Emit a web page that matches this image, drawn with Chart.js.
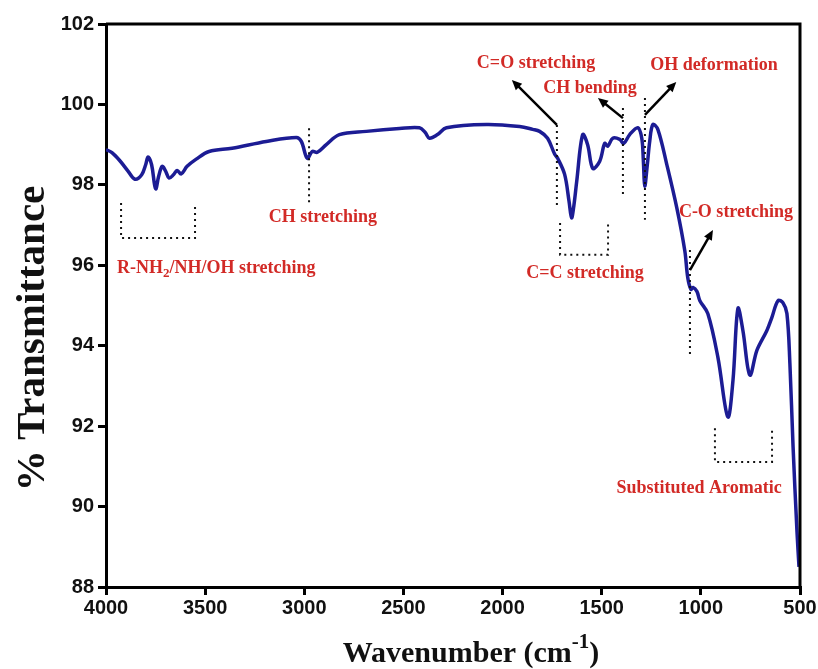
<!DOCTYPE html>
<html>
<head>
<meta charset="utf-8">
<title>FTIR spectrum</title>
<script src="https://cdn.jsdelivr.net/npm/chart.js@4.4.1/dist/chart.umd.min.js"></script>
<style>
  html, body { margin: 0; padding: 0; background: #fff; }
  #wrap { width: 818px; height: 669px; }
</style>
</head>
<body>
<div id="wrap"><canvas id="ftir" width="818" height="669"></canvas></div>
<script>
// ---- spectrum data (cm-1 / %T) ----
const wavenumber = [
  4000, 3970, 3930, 3890, 3854, 3820, 3800, 3788, 3770, 3755, 3748, 3735, 3717, 3700,
  3682, 3660, 3641, 3621, 3591, 3545, 3480, 3364, 3192, 3040, 3015, 2985, 2960, 2934,
  2889, 2823, 2687, 2520, 2419, 2390, 2369, 2328, 2283, 2081, 1914, 1848, 1813, 1773,
  1737, 1722, 1687, 1665, 1652, 1640, 1626, 1596, 1571, 1545, 1510, 1485, 1470, 1444,
  1409, 1389, 1359, 1318, 1298, 1290, 1283, 1270, 1258, 1242, 1217, 1172, 1121, 1081,
  1066, 1050, 1040, 1020, 1005, 965, 914, 864, 838, 813, 788, 753, 717, 667, 642, 611,
  586, 566, 551, 535, 515, 505
];
const transmittance = [
  98.88, 98.80, 98.60, 98.35, 98.14, 98.25, 98.50, 98.69, 98.50, 98.00, 97.90, 98.20, 98.46, 98.35,
  98.17, 98.25, 98.36, 98.27, 98.46, 98.64, 98.83, 98.91, 99.08, 99.18, 99.08, 98.66, 98.83, 98.81,
  99.00, 99.25, 99.33, 99.40, 99.42, 99.30, 99.16, 99.25, 99.42, 99.50, 99.45, 99.38, 99.33, 99.16,
  98.76, 98.66, 98.26, 97.60, 97.18, 97.50, 98.09, 99.25, 99.00, 98.41, 98.59, 99.03, 98.96, 99.16,
  99.13, 99.03, 99.25, 99.42, 99.16, 98.60, 97.97, 98.50, 99.08, 99.50, 99.38, 98.51, 97.42, 96.36,
  95.69, 95.40, 95.45, 95.35, 95.12, 94.80, 93.71, 92.23, 93.14, 94.93, 94.38, 93.27, 93.89, 94.38, 94.70, 95.12,
  95.07, 94.80, 93.56, 91.49, 89.36, 88.50
];

// axis ranges / ticks
const xTicks = [4000, 3500, 3000, 2500, 2000, 1500, 1000, 500];
const yTicks = [88, 90, 92, 94, 96, 98, 100, 102];

// band assignments: [label, x, y] in data units
const bandLabels = [
  ['CH stretching', 2906, 97.18],
  ['C=O stretching', 1831, 101.03],
  ['CH bending', 1559, 100.41],
  ['OH deformation', 934, 100.98],
  ['C=C stretching', 1584, 95.81],
  ['C-O stretching', 823, 97.32],
  ['Substituted Aromatic', 1009, 90.46]
];
// dotted markers: [x, yTop, yBottom]
const bandMarkers = [
  [2976, 99.41, 97.57],
  [1726, 99.49, 97.50],
  [1393, 99.91, 97.70],
  [1282, 100.16, 97.13],
  [1055, 96.38, 93.77]
];
// dotted brackets: [xLeft, xRight, yTop, yBottom]
const bandBrackets = [
  [3924, 3551, 97.55, 96.68],
  [1710, 1468, 97.05, 96.26],
  [929, 641, 91.95, 91.11]
];
// arrows: [x0, y0, x1, y1]
const bandArrows = [
  [1726, 99.49, 1953, 100.61],
  [1393, 99.66, 1519, 100.16],
  [1282, 99.74, 1124, 100.56],
  [1055, 95.88, 939, 96.88]
];

const RED = '#d22a26';
const LABEL_FONT = 'bold 18px "Liberation Serif", "DejaVu Serif", serif';

function drawArrow(ctx, x0, y0, x1, y1) {
  const ang = Math.atan2(y1 - y0, x1 - x0);
  const head = 11;
  ctx.beginPath();
  ctx.moveTo(x0, y0);
  ctx.lineTo(x1 - Math.cos(ang) * head * 0.8, y1 - Math.sin(ang) * head * 0.8);
  ctx.stroke();
  ctx.beginPath();
  ctx.moveTo(x1, y1);
  ctx.lineTo(x1 - head * Math.cos(ang - 0.42), y1 - head * Math.sin(ang - 0.42));
  ctx.lineTo(x1 - head * Math.cos(ang + 0.42), y1 - head * Math.sin(ang + 0.42));
  ctx.closePath();
  ctx.fill();
}

// labels, dotted guides and arrows on top of the curve
const annotationPlugin = {
  id: 'bandAnnotations',
  afterDatasetsDraw(chart) {
    const { ctx } = chart;
    const xs = chart.scales.x, ys = chart.scales.y;
    const px = v => xs.getPixelForValue(v);
    const py = v => ys.getPixelForValue(v);

    ctx.save();
    ctx.strokeStyle = '#111';
    ctx.lineWidth = 2;
    ctx.setLineDash([2, 4]);
    bandMarkers.forEach(([x, y0, y1]) => {
      ctx.beginPath();
      ctx.moveTo(px(x), py(y0));
      ctx.lineTo(px(x), py(y1));
      ctx.stroke();
    });
    bandBrackets.forEach(([xl, xr, yt, yb]) => {
      ctx.beginPath();
      ctx.moveTo(px(xl), py(yt));
      ctx.lineTo(px(xl), py(yb));
      ctx.lineTo(px(xr), py(yb));
      ctx.lineTo(px(xr), py(yt));
      ctx.stroke();
    });
    ctx.setLineDash([]);

    ctx.strokeStyle = '#000';
    ctx.fillStyle = '#000';
    ctx.lineWidth = 2.5;
    bandArrows.forEach(([x0, y0, x1, y1]) => drawArrow(ctx, px(x0), py(y0), px(x1), py(y1)));

    ctx.fillStyle = RED;
    ctx.font = LABEL_FONT;
    ctx.textAlign = 'center';
    ctx.textBaseline = 'middle';
    bandLabels.forEach(([t, x, y]) => ctx.fillText(t, px(x), py(y)));

    // R-NH2/NH/OH label with subscript
    ctx.textAlign = 'left';
    let lx = px(3945), ly = py(95.93);
    const parts = [['R-NH', 0, 18], ['2', 6, 13], ['/NH/OH stretching', 0, 18]];
    parts.forEach(([t, dy, size]) => {
      ctx.font = 'bold ' + size + 'px "Liberation Serif", "DejaVu Serif", serif';
      ctx.fillText(t, lx, ly + dy);
      lx += ctx.measureText(t).width;
    });
    ctx.restore();
  }
};

// closed frame plus axis titles
const framePlugin = {
  id: 'frameAndTitles',
  afterDraw(chart) {
    const { ctx, chartArea: a } = chart;
    ctx.save();
    ctx.strokeStyle = '#000';
    ctx.lineWidth = 3;
    ctx.beginPath();
    ctx.moveTo(a.left, a.top);
    ctx.lineTo(a.right, a.top);
    ctx.lineTo(a.right, a.bottom);
    ctx.stroke();

    ctx.fillStyle = '#111';
    // y title
    ctx.save();
    ctx.translate(33, (a.top + a.bottom) / 2 + 33);
    ctx.rotate(-Math.PI / 2);
    ctx.font = 'bold 41px "Liberation Serif", "DejaVu Serif", serif';
    ctx.textAlign = 'center';
    ctx.textBaseline = 'middle';
    ctx.fillText('% Transmittance', 0, 0);
    ctx.restore();

    // x title with superscript
    const mainFont = 'bold 30px "Liberation Serif", "DejaVu Serif", serif';
    const supFont = 'bold 21px "Liberation Serif", "DejaVu Serif", serif';
    const pieces = [['Wavenumber (cm', mainFont, 0], ['-1', supFont, -14], [')', mainFont, 0]];
    let total = 0;
    pieces.forEach(([t, f]) => { ctx.font = f; total += ctx.measureText(t).width; });
    let x = 471 - total / 2;
    const base = 662;
    ctx.textAlign = 'left';
    ctx.textBaseline = 'alphabetic';
    pieces.forEach(([t, f, dy]) => {
      ctx.font = f;
      ctx.fillText(t, x, base + dy);
      x += ctx.measureText(t).width;
    });
    ctx.restore();
  }
};

const tickFont = { family: '"Liberation Sans", Arial, sans-serif', size: 20, weight: 'bold' };
const axisLine = { display: true, width: 3, color: '#000' };
const tickMarks = { drawOnChartArea: false, drawTicks: true, tickLength: 8, lineWidth: 3, color: '#000' };
const plainNumber = v => String(v);

new Chart(document.getElementById('ftir'), {
  type: 'line',
  data: {
    datasets: [{
      data: wavenumber.map((w, i) => ({ x: w, y: transmittance[i] })),
      borderColor: '#1c1c94',
      borderWidth: 3.5,
      pointRadius: 0,
      tension: 0.35,
      fill: false
    }]
  },
  options: {
    responsive: false,
    animation: false,
    layout: { padding: { top: 24, right: 18, left: 0, bottom: 0 } },
    plugins: { legend: { display: false }, tooltip: { enabled: false } },
    scales: {
      x: {
        type: 'linear',
        reverse: true,
        min: 500,
        max: 4000,
        afterBuildTicks: s => { s.ticks = xTicks.map(v => ({ value: v })); },
        ticks: { font: tickFont, color: '#111', padding: 1, maxRotation: 0, callback: plainNumber },
        grid: tickMarks,
        border: axisLine,
        afterFit: s => { s.height = 82; }
      },
      y: {
        min: 88,
        max: 102,
        afterBuildTicks: s => { s.ticks = yTicks.map(v => ({ value: v })); },
        ticks: { font: tickFont, color: '#111', padding: 4, callback: plainNumber },
        grid: tickMarks,
        border: axisLine,
        afterFit: s => { s.width = 106; }
      }
    }
  },
  plugins: [annotationPlugin, framePlugin]
});
</script>
</body>
</html>
